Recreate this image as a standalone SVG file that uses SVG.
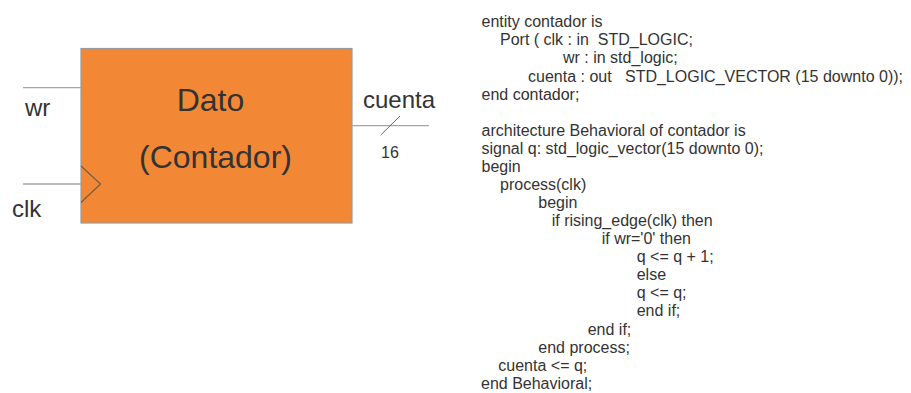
<svg xmlns="http://www.w3.org/2000/svg" width="911" height="393" viewBox="0 0 911 393">
<style>
.wire{stroke:#a6a6a6;stroke-width:1.3;fill:none}
.lbl{font-family:"Liberation Sans",Arial,sans-serif;fill:#333333}
.code{font-family:"Liberation Sans",Arial,sans-serif;font-size:16px;fill:#333333}
</style>
<rect width="911" height="393" fill="#ffffff"/>
<g id="contador">
<rect x="81" y="48.5" width="271" height="174.5" fill="#F28835" stroke="#9a9a9a" stroke-width="1.2"/>
<polyline points="81,166 100.5,184 81,202.5" fill="none" stroke="#6e5a4a" stroke-width="1.1"/>
<text class="lbl" x="210.5" y="111" font-size="32" text-anchor="middle" fill="#3a3a3a">Dato</text>
<text class="lbl" x="215.5" y="168" font-size="32" text-anchor="middle" fill="#3a3a3a">(Contador)</text>
</g>
<g id="connectors">
<line class="wire" x1="23" y1="87.7" x2="81" y2="87.7"/>
<line class="wire" x1="23" y1="184" x2="81" y2="184"/>
<line class="wire" x1="352" y1="125.7" x2="429" y2="125.7"/>
<line x1="380.7" y1="135" x2="400" y2="116" stroke="#666666" stroke-width="1"/>
</g>
<g id="labels">
<text class="lbl" x="25" y="116" font-size="24">wr</text>
<text class="lbl" x="12" y="216.5" font-size="24">clk</text>
<text class="lbl" x="363" y="108" font-size="24">cuenta</text>
<text class="lbl" x="381" y="158" font-size="16">16</text>
</g>
<g id="code" class="code">
<text x="481.5" y="27.3">entity contador is</text>
<text x="500" y="45.3">Port ( clk : in&#160; STD_LOGIC;</text>
<text x="563" y="63.4">wr : in std_logic;</text>
<text x="528" y="81.5">cuenta : out&#160;&#160; STD_LOGIC_VECTOR (15 downto 0));</text>
<text x="481.5" y="99.6">end contador;</text>
<text x="481.5" y="135.7">architecture Behavioral of contador is</text>
<text x="481.5" y="153.8">signal q: std_logic_vector(15 downto 0);</text>
<text x="481.5" y="171.8">begin</text>
<text x="500" y="189.9">process(clk)</text>
<text x="538.3" y="208">begin</text>
<text x="551.7" y="226">if rising_edge(clk) then</text>
<text x="601.7" y="244.1">if wr='0' then</text>
<text x="636.7" y="262.2">q &lt;= q + 1;</text>
<text x="636.7" y="280.3">else</text>
<text x="636.7" y="298.3">q &lt;= q;</text>
<text x="636.7" y="316.4">end if;</text>
<text x="587.7" y="334.5">end if;</text>
<text x="538.3" y="352.5">end process;</text>
<text x="498.3" y="370.6">cuenta &lt;= q;</text>
<text x="481" y="388.7">end Behavioral;</text>
</g>
</svg>
